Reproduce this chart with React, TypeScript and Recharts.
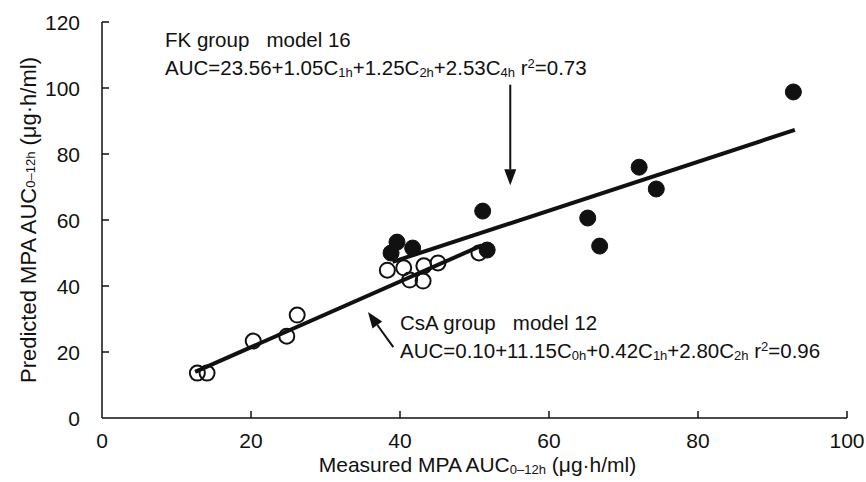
import React from 'react';
import { ComposedChart, XAxis, YAxis, Scatter, Line, ReferenceLine } from 'recharts';

const xTicks = [0, 20, 40, 60, 80, 100];
const yTicks = [0, 20, 40, 60, 80, 100, 120];

// FK group (filled circles)
const fkMeasured = [92.8, 72.1, 74.4, 65.2, 66.8, 51.1, 51.7, 39.6, 38.8, 41.7];
const fkPredicted = [98.8, 76.0, 69.4, 60.6, 52.1, 62.7, 50.9, 53.3, 50.0, 51.5];

// CsA group (open circles)
const csaMeasured = [12.8, 14.1, 20.3, 24.8, 26.2, 38.3, 40.5, 41.3, 43.1, 43.2, 45.1, 50.6];
const csaPredicted = [13.6, 13.6, 23.3, 24.8, 31.2, 44.8, 45.5, 41.8, 41.5, 46.1, 47.0, 50.0];

// regression lines (end points)
const fkFitX = [39, 93];
const fkFitY = [47.3, 87.3];
const csaFitX = [12.5, 51];
const csaFitY = [14, 52.3];

// annotation arrows: [x1, y1, x2 (tip), y2 (tip)]
const fkArrow = [54.8, 101, 54.8, 70.5];
const csaArrow = [39.1, 21.5, 35.7, 32.1];

const zip = (xs: number[], ys: number[]) => xs.map((x, i) => ({ x, y: ys[i] }));

const fkPts = zip(fkMeasured, fkPredicted);
const csaPts = zip(csaMeasured, csaPredicted);
const fkFit = zip(fkFitX, fkFitY);
const csaFit = zip(csaFitX, csaFitY);

const FONT = '"Liberation Sans", Arial, Helvetica, sans-serif';
const INK = '#111';

const YTick = ({ x, y, payload }: any) => (
  <g>
    {payload.value !== 0 && <line x1={x} x2={x + 7} y1={y} y2={y} stroke={INK} strokeWidth={1.5} />}
    <text x={x - 22} y={y} textAnchor="end" dominantBaseline="central" fontSize={21} fontFamily={FONT} fill={INK}>
      {payload.value}
    </text>
  </g>
);

const XTick = ({ x, y, payload }: any) => (
  <g>
    {payload.value !== 0 && <line x1={x} x2={x} y1={y} y2={y - 7} stroke={INK} strokeWidth={1.5} />}
    <text x={x} y={y + 30} textAnchor="middle" fontSize={21} fontFamily={FONT} fill={INK}>
      {payload.value}
    </text>
  </g>
);

const Sub = ({ children }: any) => (
  <tspan fontSize={13} dy={2}>{children}</tspan>
);

const XTitle = ({ viewBox }: any) => {
  const { x, y, width } = viewBox;
  return (
    <text x={x + width / 2 + 3} y={y + 54} textAnchor="middle" fontSize={21} fontFamily={FONT} fill={INK}>
      Measured MPA AUC<Sub>0–12h</Sub>
      <tspan dy={-2}> (μg·h/ml)</tspan>
    </text>
  );
};

const YTitle = ({ viewBox }: any) => {
  const { y, height } = viewBox;
  const cx = 28;
  const cy = y + height / 2;
  return (
    <text
      x={cx}
      y={cy}
      transform={`rotate(-90 ${cx} ${cy})`}
      textAnchor="middle"
      dominantBaseline="central"
      fontSize={22}
      fontFamily={FONT}
      fill={INK}
    >
      Predicted MPA AUC<Sub>0–12h</Sub>
      <tspan dy={-2}> (μg·h/ml)</tspan>
    </text>
  );
};

const Dot = ({ cx, cy, filled }: any) => (
  <circle
    cx={cx}
    cy={cy}
    r={filled ? 8 : 7.5}
    fill={filled ? INK : '#fff'}
    fillOpacity={filled ? 1 : 0}
    stroke={INK}
    strokeWidth={filled ? 1 : 2}
  />
);

const Arrow = (props: any) => {
  const { x1, y1, x2, y2 } = props;
  const dx = x2 - x1;
  const dy = y2 - y1;
  const len = Math.sqrt(dx * dx + dy * dy) || 1;
  const ux = dx / len;
  const uy = dy / len;
  const hl = 16;
  const hw = 6;
  const bx = x2 - ux * hl;
  const by = y2 - uy * hl;
  return (
    <g>
      <line x1={x1} y1={y1} x2={bx} y2={by} stroke={INK} strokeWidth={2} />
      <polygon
        points={`${x2},${y2} ${bx - uy * hw},${by + ux * hw} ${bx + uy * hw},${by - ux * hw}`}
        fill={INK}
      />
    </g>
  );
};

const noteStyle: React.CSSProperties = {
  position: 'absolute',
  fontFamily: FONT,
  fontSize: 20.5,
  color: INK,
  whiteSpace: 'pre',
  lineHeight: '28px',
};

const S = ({ children }: any) => (
  <span style={{ fontSize: 13, position: 'relative', top: 2 }}>{children}</span>
);
const Sup = ({ children }: any) => (
  <span style={{ fontSize: 13, position: 'relative', top: -7 }}>{children}</span>
);

export default function App() {
  return (
    <div style={{ position: 'absolute', left: 0, top: 0, width: 866, height: 482, background: '#fff' }}>
      <ComposedChart width={866} height={482} margin={{ top: 22, right: 19, left: 0, bottom: 0 }}>
        <XAxis
          dataKey="x"
          type="number"
          domain={[0, 100]}
          ticks={xTicks}
          height={64}
          tickSize={0}
          tickMargin={0}
          tickLine={false}
          axisLine={{ stroke: INK, strokeWidth: 1.5 }}
          tick={<XTick />}
          interval={0}
          allowDataOverflow
          label={{ content: <XTitle /> }}
        />
        <YAxis
          dataKey="y"
          type="number"
          domain={[0, 120]}
          ticks={yTicks}
          width={102}
          tickSize={0}
          tickMargin={0}
          tickLine={false}
          axisLine={{ stroke: INK, strokeWidth: 1.5 }}
          tick={<YTick />}
          interval={0}
          allowDataOverflow
          label={{ content: <YTitle /> }}
        />
        <Line data={fkFit} dataKey="y" type="linear" stroke={INK} strokeWidth={4} dot={false} isAnimationActive={false} />
        <Line data={csaFit} dataKey="y" type="linear" stroke={INK} strokeWidth={4} dot={false} isAnimationActive={false} />
        <Scatter data={csaPts} dataKey="y" shape={(p: any) => <Dot {...p} filled={false} />} isAnimationActive={false} />
        <Scatter data={fkPts} dataKey="y" shape={(p: any) => <Dot {...p} filled />} isAnimationActive={false} />
        <ReferenceLine
          segment={[{ x: fkArrow[0], y: fkArrow[1] }, { x: fkArrow[2], y: fkArrow[3] }]}
          shape={<Arrow />}
          ifOverflow="visible"
        />
        <ReferenceLine
          segment={[{ x: csaArrow[0], y: csaArrow[1] }, { x: csaArrow[2], y: csaArrow[3] }]}
          shape={<Arrow />}
          ifOverflow="visible"
        />
      </ComposedChart>

      <div style={{ ...noteStyle, left: 165, top: 26 }}>
        {'FK group   model 16'}
        <br />
        AUC=23.56+1.05C<S>1h</S>+1.25C<S>2h</S>+2.53C<S>4h</S>{' '}r<Sup>2</Sup>=0.73
      </div>
      <div style={{ ...noteStyle, left: 400, top: 309 }}>
        {'CsA group   model 12'}
        <br />
        AUC=0.10+11.15C<S>0h</S>+0.42C<S>1h</S>+2.80C<S>2h</S>{' '}r<Sup>2</Sup>=0.96
      </div>
    </div>
  );
}
